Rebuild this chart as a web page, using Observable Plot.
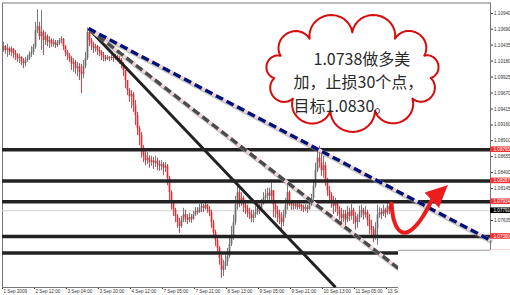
<!DOCTYPE html>
<html>
<head>
<meta charset="utf-8">
<script src="https://cdn.jsdelivr.net/npm/d3@7"></script>
<script src="https://cdn.jsdelivr.net/npm/@observablehq/plot@0.6"></script>
<style>
  html, body { margin: 0; padding: 0; background: #fff; }
</style>
</head>
<body>
<div id="chart"></div>
<script>
// USD/CAD, hourly candles from 1 Sep 2009 to 13 Sep 2009 (x = hour index)
const firstOpen = 1.1035;
const close = [
  1.1041, 1.1035, 1.1038, 1.1032, 1.1037, 1.1030, 1.1027, 1.1022, 1.1024, 1.1017,
  1.1014, 1.1019, 1.1022, 1.1029, 1.1032, 1.1040, 1.1067, 1.1073, 1.1057, 1.1064,
  1.1051, 1.1057, 1.1048, 1.1051, 1.1045, 1.1048, 1.1043, 1.1046, 1.1051, 1.1053,
  1.1041, 1.1032, 1.1027, 1.1022, 1.1013, 1.1016, 1.1006, 1.1009, 1.1000, 1.0997,
  1.1009, 1.1022, 1.1064, 1.1051, 1.1045, 1.1038, 1.1041, 1.1035, 1.1032, 1.1027,
  1.1024, 1.1021, 1.1024, 1.1022, 1.1024, 1.1022, 1.1025, 1.1022, 1.1019, 1.1013,
  1.1003, 1.0987, 1.0971, 1.0961, 1.0965, 1.0946, 1.0931, 1.0910, 1.0899, 1.0879,
  1.0867, 1.0859, 1.0863, 1.0856, 1.0859, 1.0855, 1.0858, 1.0853, 1.0850, 1.0853,
  1.0847, 1.0850, 1.0831, 1.0808, 1.0791, 1.0780, 1.0770, 1.0760, 1.0754, 1.0764,
  1.0773, 1.0768, 1.0764, 1.0768, 1.0765, 1.0773, 1.0778, 1.0776, 1.0783, 1.0786,
  1.0783, 1.0788, 1.0781, 1.0776, 1.0760, 1.0744, 1.0732, 1.0719, 1.0703, 1.0684,
  1.0690, 1.0697, 1.0706, 1.0725, 1.0738, 1.0760, 1.0788, 1.0808, 1.0795, 1.0799,
  1.0788, 1.0783, 1.0776, 1.0773, 1.0767, 1.0772, 1.0776, 1.0783, 1.0780, 1.0789,
  1.0799, 1.0803, 1.0807, 1.0802, 1.0811, 1.0788, 1.0780, 1.0773, 1.0767, 1.0760,
  1.0772, 1.0788, 1.0808, 1.0795, 1.0788, 1.0786, 1.0789, 1.0784, 1.0788, 1.0784,
  1.0781, 1.0784, 1.0781, 1.0789, 1.0799, 1.0818, 1.0843, 1.0863, 1.0856, 1.0843,
  1.0851, 1.0827, 1.0811, 1.0803, 1.0795, 1.0786, 1.0791, 1.0780, 1.0773, 1.0767,
  1.0773, 1.0764, 1.0776, 1.0770, 1.0780, 1.0770, 1.0760, 1.0767, 1.0776, 1.0780,
  1.0772, 1.0776, 1.0764, 1.0754, 1.0748, 1.0738, 1.0751, 1.0772, 1.0776, 1.0773,
  1.0780, 1.0775, 1.0786, 1.07791
];
const high = [
  1.1048, 1.1043, 1.1045, 1.1040, 1.1041, 1.1038, 1.1035, 1.1030, 1.1029, 1.1025,
  1.1022, 1.1024, 1.1027, 1.1033, 1.1041, 1.1045, 1.1080, 1.1100, 1.1080, 1.1099,
  1.1067, 1.1064, 1.1060, 1.1057, 1.1054, 1.1053, 1.1051, 1.1051, 1.1054, 1.1057,
  1.1054, 1.1043, 1.1035, 1.1030, 1.1025, 1.1022, 1.1019, 1.1016, 1.1014, 1.1013,
  1.1019, 1.1032, 1.1071, 1.1067, 1.1054, 1.1048, 1.1045, 1.1043, 1.1040, 1.1035,
  1.1032, 1.1027, 1.1027, 1.1025, 1.1027, 1.1027, 1.1029, 1.1027, 1.1025, 1.1022,
  1.1016, 1.1003, 1.0987, 1.0974, 1.0971, 1.0968, 1.0955, 1.0936, 1.0914, 1.0904,
  1.0883, 1.0875, 1.0872, 1.0867, 1.0866, 1.0864, 1.0866, 1.0863, 1.0859, 1.0859,
  1.0856, 1.0856, 1.0853, 1.0834, 1.0811, 1.0795, 1.0783, 1.0773, 1.0767, 1.0770,
  1.0783, 1.0780, 1.0773, 1.0775, 1.0773, 1.0778, 1.0784, 1.0784, 1.0789, 1.0791,
  1.0789, 1.0792, 1.0789, 1.0786, 1.0780, 1.0764, 1.0748, 1.0735, 1.0722, 1.0708,
  1.0700, 1.0708, 1.0719, 1.0735, 1.0754, 1.0772, 1.0802, 1.0823, 1.0815, 1.0808,
  1.0802, 1.0792, 1.0788, 1.0783, 1.0780, 1.0780, 1.0786, 1.0791, 1.0789, 1.0797,
  1.0808, 1.0813, 1.0815, 1.0815, 1.0824, 1.0811, 1.0791, 1.0786, 1.0780, 1.0776,
  1.0780, 1.0799, 1.0823, 1.0811, 1.0795, 1.0792, 1.0792, 1.0792, 1.0792, 1.0789,
  1.0788, 1.0789, 1.0788, 1.0795, 1.0805, 1.0827, 1.0855, 1.0875, 1.0882, 1.0872,
  1.0866, 1.0856, 1.0831, 1.0818, 1.0808, 1.0802, 1.0799, 1.0795, 1.0786, 1.0783,
  1.0780, 1.0780, 1.0786, 1.0783, 1.0789, 1.0783, 1.0776, 1.0773, 1.0786, 1.0788,
  1.0783, 1.0786, 1.0780, 1.0773, 1.0764, 1.0754, 1.0760, 1.0788, 1.0784, 1.0783,
  1.0788, 1.0783, 1.0794, 1.0791
];
const low = [
  1.1032, 1.1029, 1.1024, 1.1027, 1.1025, 1.1022, 1.1019, 1.1016, 1.1014, 1.1011,
  1.1006, 1.1009, 1.1016, 1.1019, 1.1024, 1.1027, 1.1037, 1.1062, 1.1051, 1.1035,
  1.1027, 1.1043, 1.1041, 1.1038, 1.1040, 1.1040, 1.1038, 1.1040, 1.1043, 1.1045,
  1.1035, 1.1025, 1.1019, 1.1016, 1.1003, 1.1000, 1.0997, 1.0993, 1.0987, 1.0966,
  1.0990, 1.1006, 1.1019, 1.1041, 1.1035, 1.1030, 1.1032, 1.1027, 1.1025, 1.1019,
  1.1017, 1.1017, 1.1019, 1.1017, 1.1019, 1.1016, 1.1019, 1.1017, 1.1013, 1.1006,
  1.0993, 1.0974, 1.0963, 1.0952, 1.0942, 1.0936, 1.0915, 1.0899, 1.0883, 1.0863,
  1.0856, 1.0851, 1.0853, 1.0847, 1.0850, 1.0845, 1.0848, 1.0843, 1.0842, 1.0843,
  1.0835, 1.0840, 1.0819, 1.0795, 1.0780, 1.0770, 1.0760, 1.0751, 1.0743, 1.0751,
  1.0760, 1.0760, 1.0757, 1.0760, 1.0759, 1.0764, 1.0770, 1.0772, 1.0775, 1.0776,
  1.0776, 1.0780, 1.0775, 1.0770, 1.0751, 1.0735, 1.0722, 1.0709, 1.0692, 1.0671,
  1.0674, 1.0684, 1.0690, 1.0703, 1.0722, 1.0732, 1.0756, 1.0780, 1.0784, 1.0786,
  1.0776, 1.0773, 1.0768, 1.0765, 1.0760, 1.0760, 1.0767, 1.0772, 1.0773, 1.0776,
  1.0788, 1.0792, 1.0795, 1.0791, 1.0795, 1.0768, 1.0767, 1.0760, 1.0757, 1.0748,
  1.0754, 1.0767, 1.0780, 1.0786, 1.0780, 1.0780, 1.0781, 1.0780, 1.0781, 1.0778,
  1.0776, 1.0778, 1.0775, 1.0780, 1.0786, 1.0795, 1.0815, 1.0840, 1.0847, 1.0834,
  1.0831, 1.0818, 1.0802, 1.0795, 1.0783, 1.0773, 1.0776, 1.0770, 1.0764, 1.0757,
  1.0760, 1.0754, 1.0760, 1.0762, 1.0764, 1.0757, 1.0748, 1.0751, 1.0760, 1.0768,
  1.0764, 1.0767, 1.0754, 1.0741, 1.0735, 1.0728, 1.0732, 1.0724, 1.0767, 1.0765,
  1.0770, 1.0767, 1.0772, 1.0773
];

// time axis: one label every 16 hourly bars
const timeTickBars = [-0.5, 15.5, 31.5, 47.5, 63.5, 79.5, 95.5, 111.5, 127.5, 143.5, 159.5, 175.5, 191.5];
const timeTickLabels = ["1 Sep 2009", "2 Sep 12:00", "3 Sep 04:00", "3 Sep 20:00", "4 Sep 12:00",
  "7 Sep 05:00", "7 Sep 21:00", "8 Sep 13:00", "9 Sep 05:00", "9 Sep 21:00",
  "10 Sep 13:00", "11 Sep 05:00", "13 Sep 21:00"];
// price axis labels
const priceTicks = [1.10940, 1.10690, 1.10435, 1.10180, 1.09925, 1.09670, 1.09415,
  1.09160, 1.08910, 1.08655, 1.08400, 1.08145, 1.07635];

// support / resistance levels and the current bid
const levels = [1.08765, 1.08267, 1.07934, 1.07380, 1.07115];
const bid = 1.07791;

// trend lines drawn from the 3 Sep high
const trendStartBar = 42.5, trendStartPrice = 1.1070;
const trendEndBars = [166, 197.5, 243.5];
const trendEndPrices = [1.0657, 1.0687, 1.0732];

// projected move: dip to the 1.0738 entry, then up toward 1.0830
const pathBars = [194, 195.25, 199, 204.5, 210, 214, 222];
const pathPrices = [1.07906, 1.07635, 1.07451, 1.07499, 1.07715, 1.0795, 1.0819];

// trade note inside the callout
const noteLines = ["1.0738做多美", "加，止损30个点，", "目标1.0830。"];
const noteBars = [155, 145, 145];
const notePrices = [1.10205, 1.09830, 1.09455];

// ---- layout ----
const W = 510, H = 295;
const M = {top: 2.5, right: 20, bottom: 8, left: 2};
const xDomain = [-0.5, 243.5];
const yDomain = [1.06565, 1.11108];
const px = d3.scaleLinear(xDomain, [M.left, W - M.right]);
const py = d3.scaleLinear(yDomain, [H - M.bottom, M.top]);
const xEnd = xDomain[1];

const RED = "#e8262b", GREY = "#6a6a6a";

const candles = close.map((c, i) => ({
  bar: i, open: i ? close[i - 1] : firstOpen, high: high[i], low: low[i], close: c
}));
const candleColor = d => d.close < d.open ? RED : GREY;

const trends = trendEndBars.map((b, i) => ({
  x1: trendStartBar, y1: trendStartPrice, x2: b, y2: trendEndPrices[i]
}));
const [solidLine, greyLine, blueLine] = trends;

// callout cloud: scalloped outline around an ellipse (pixel radii)
function cloudOutline(bar, price, rx, ry, lobes, start, bulge) {
  const cx = px(bar), cy = py(price);
  const valleys = d3.range(lobes + 1).map(k => {
    const a = start + k * 2 * Math.PI / lobes;
    return [cx + rx * Math.cos(a), cy + ry * Math.sin(a)];
  });
  const pts = [];
  for (let k = 0; k < lobes; k++) {
    const [x0, y0] = valleys[k], [x1, y1] = valleys[k + 1];
    const mx = (x0 + x1) / 2, my = (y0 + y1) / 2;
    const hx = (x1 - x0) / 2, hy = (y1 - y0) / 2;
    const h = Math.hypot(hx, hy);
    let nx = hy / h, ny = -hx / h;
    if ((mx - cx) * nx + (my - cy) * ny < 0) { nx = -nx; ny = -ny; }
    for (let j = 0; j <= 16; j++) {
      const t = Math.PI * j / 16;
      pts.push({
        x: px.invert(mx - hx * Math.cos(t) + nx * h * bulge * Math.sin(t)),
        y: py.invert(my - hy * Math.cos(t) + ny * h * bulge * Math.sin(t))
      });
    }
  }
  return pts;
}
const cloud = cloudOutline(174.5, 1.1000, 79, 40, 11, 73.5 * Math.PI / 180, 0.95);

// arrow: shaft through the path, filled head at its end
const path = pathBars.map((b, i) => ({x: b, y: pathPrices[i]}));
const shaft = path.slice(0, -1);
const tipPx = [px(pathBars.at(-1)), py(pathPrices.at(-1))];
const prevPx = [px(pathBars.at(-2)), py(pathPrices.at(-2))];
const segLen = Math.hypot(tipPx[0] - prevPx[0], tipPx[1] - prevPx[1]);
const ux = (tipPx[0] - prevPx[0]) / segLen, uy = (tipPx[1] - prevPx[1]) / segLen;
const basePx = [tipPx[0] - ux * 21, tipPx[1] - uy * 21];
const head = [tipPx, [basePx[0] + uy * 10, basePx[1] - ux * 10], [basePx[0] - uy * 10, basePx[1] + ux * 10]]
  .map(([x, y]) => ({x: px.invert(x), y: py.invert(y)}));

// blank lower-right corner below the last level, right of the last bar
const blankFromBar = 197.5, blankBelow = 1.0716;

const chart = Plot.plot({
  width: W, height: H,
  marginTop: M.top, marginRight: M.right, marginBottom: M.bottom, marginLeft: M.left,
  style: {background: "#fff", fontFamily: "'Liberation Sans', Arial, sans-serif", fontSize: "4.6px", color: "#333", overflow: "visible"},
  x: {domain: xDomain, ticks: timeTickBars, tickFormat: () => "", tickSize: 2, label: null},
  y: {domain: yDomain, axis: "right", ticks: priceTicks, tickFormat: d => d.toFixed(5), tickSize: 2, tickPadding: 1.5, label: null},
  marks: [
    Plot.frame({stroke: "#777"}),
    Plot.ruleY([bid], {stroke: "#d4d4d4", strokeWidth: 1}),
    // candles
    Plot.ruleX(candles, {x: "bar", y1: "low", y2: "high", stroke: candleColor, strokeWidth: 0.9}),
    Plot.ruleX(candles, {x: "bar", y1: "open", y2: "close", stroke: candleColor, strokeWidth: 1.7}),
    // horizontal levels
    Plot.ruleY(levels, {stroke: "#222", strokeWidth: 3.5}),
    // trend lines
    Plot.link([greyLine, blueLine], {x1: "x1", y1: "y1", x2: "x2", y2: "y2", stroke: "#777", strokeOpacity: 0.45, strokeWidth: 4, dx: 1.5, dy: 2, ariaLabel: "shadow"}),
    Plot.link([solidLine], {x1: "x1", y1: "y1", x2: "x2", y2: "y2", stroke: "#222", strokeWidth: 3}),
    Plot.link([greyLine], {x1: "x1", y1: "y1", x2: "x2", y2: "y2", stroke: "#ecd8d8", strokeWidth: 3.4}),
    Plot.link([greyLine], {x1: "x1", y1: "y1", x2: "x2", y2: "y2", stroke: "#4a4a4a", strokeWidth: 3.4, strokeDasharray: "8,4"}),
    Plot.link([blueLine], {x1: "x1", y1: "y1", x2: "x2", y2: "y2", stroke: "#f0d4d4", strokeWidth: 3.4}),
    Plot.link([blueLine], {x1: "x1", y1: "y1", x2: "x2", y2: "y2", stroke: "#00107a", strokeWidth: 3.4, strokeDasharray: "8,4"}),
    // price tags on the axis
    Plot.rect(levels, {x1: () => xEnd, x2: () => xEnd + 10, y1: d => d - 0.00045, y2: d => d + 0.00045, fill: "#f03434"}),
    Plot.text(levels, {x: () => xEnd, y: d => d, text: d => d.toFixed(5), textAnchor: "start", dx: 3, fill: "#fff", fontSize: 4.6}),
    Plot.rect([bid], {x1: () => xEnd, x2: () => xEnd + 10, y1: d => d - 0.00045, y2: d => d + 0.00045, fill: "#000"}),
    Plot.text([bid], {x: () => xEnd, y: d => d, text: d => d.toFixed(5), textAnchor: "start", dx: 3, fill: "#fff", fontSize: 4.6}),
    // time labels
    Plot.text(timeTickBars, {x: d => d, frameAnchor: "bottom", text: (d, i) => timeTickLabels[i], textAnchor: "start", lineAnchor: "top", dx: 1, dy: 2.5, fill: "#333", fontSize: 4.6}),
    // blank corner
    Plot.rect([0], {x1: () => blankFromBar, x2: () => xEnd + 12, y1: () => blankBelow, y2: () => yDomain[0] - 0.002, fill: "#fff"}),
    Plot.ruleY([blankBelow], {x1: () => blankFromBar, x2: () => xEnd, stroke: "#999", strokeWidth: 1}),
    // callout
    Plot.line(cloud, {x: "x", y: "y", fill: "#fff", stroke: "#d80c0c", strokeWidth: 2}),
    Plot.text(noteLines, {x: (d, i) => noteBars[i], y: (d, i) => notePrices[i], text: d => d, textAnchor: "start", lineAnchor: "middle",
      fontFamily: "'Noto Sans CJK SC', sans-serif", fontSize: 16, fill: "#2a2a2a", ariaLabel: "note"}),
    // projected move arrow
    Plot.line(shaft, {x: "x", y: "y", curve: "natural", stroke: "#888", strokeOpacity: 0.5, strokeWidth: 4, dx: 2, dy: 2.5, ariaLabel: "shadow"}),
    Plot.line(head, {x: "x", y: "y", fill: "#888", fillOpacity: 0.5, stroke: "none", dx: 2, dy: 2.5, ariaLabel: "shadow"}),
    Plot.line(shaft, {x: "x", y: "y", curve: "natural", stroke: "#ec1c1c", strokeWidth: 4, strokeLinecap: "round"}),
    Plot.line(head, {x: "x", y: "y", fill: "#ec1c1c", stroke: "#ec1c1c", strokeWidth: 1, strokeLinejoin: "round"})
  ]
});

// soft blur for drop shadows; slightly opened letter spacing for the note
const svg = d3.select(chart);
svg.insert("defs", ":first-child")
  .append("filter").attr("id", "soft").attr("filterUnits", "userSpaceOnUse")
  .attr("x", 0).attr("y", 0).attr("width", W).attr("height", H)
  .append("feGaussianBlur").attr("stdDeviation", 1.2);
svg.selectAll('g[aria-label="shadow"]').attr("filter", "url(#soft)");
svg.selectAll('g[aria-label="note"]').attr("letter-spacing", "1px");

document.getElementById("chart").appendChild(chart);
</script>
</body>
</html>
